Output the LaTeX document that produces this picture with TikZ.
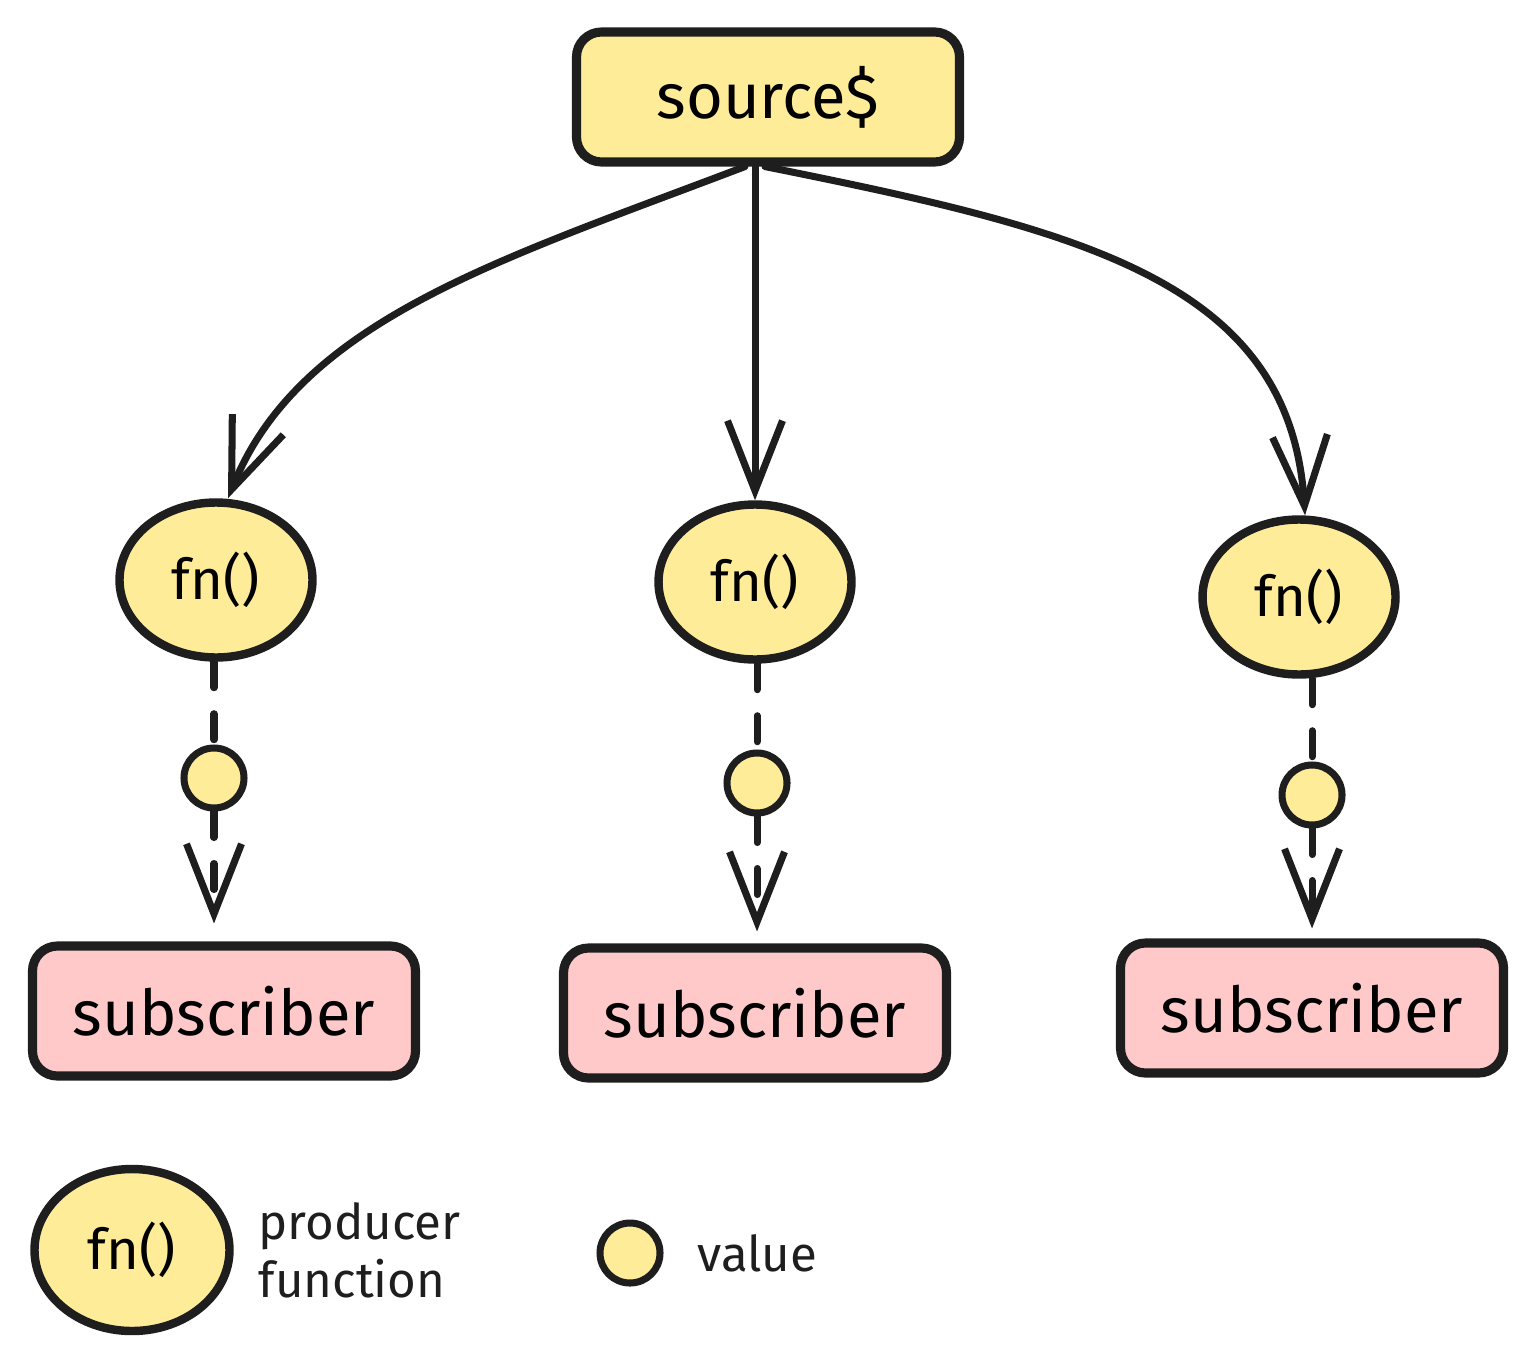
\documentclass[tikz,border=0pt]{standalone}
\usepackage{fontspec}
\setmainfont{Fira Sans}
\usetikzlibrary{arrows.meta, shapes.geometric}
\definecolor{ink}{HTML}{1E1E1E}
\definecolor{fnyellow}{HTML}{FFEC99}
\definecolor{subpink}{HTML}{FFC9C9}

\begin{document}
\begin{tikzpicture}[
  box/.style={draw=ink, line width=2.6pt, rounded corners=0.25cm, minimum width=3.83cm, minimum height=1.3cm, font=\fontsize{18}{22}\selectfont},
  prod/.style={ellipse, draw=ink, fill=fnyellow, line width=2.4pt, minimum width=1.93cm, minimum height=1.55cm, inner sep=0pt, font=\fontsize{16}{19}\selectfont},
  val/.style={circle, draw=ink, fill=fnyellow, line width=2pt, minimum size=0.6cm, inner sep=0pt},
  flow/.style={draw=ink, line width=2pt, line cap=round, -{Straight Barb[length=0.7cm,width=0.55cm]}},
  emit/.style={draw=ink, line width=2pt, line cap=round, dash pattern=on 0.26cm off 0.26cm},
  legend/.style={align=left, inner sep=0pt, text=ink, font=\fontsize{14}{16.5}\selectfont},
]
\useasboundingbox (0,0) rectangle (15.37,-13.60);

\node[box, fill=fnyellow] (src) at (7.68,-0.97) {source\$};

% producer functions
\node[prod] (fnL) at (2.16,-5.80) {fn()};
\node[prod] (fnM) at (7.55,-5.82) {fn()};
\node[prod] (fnR) at (12.99,-5.97) {fn()};

% emitted values
\node[val] (valL) at (2.14,-7.78) {};
\node[val] (valM) at (7.57,-7.83) {};
\node[val] (valR) at (13.12,-7.95) {};

\node[box, fill=subpink] (subL) at (2.24,-10.11) {subscriber};
\node[box, fill=subpink] (subM) at (7.55,-10.13) {subscriber};
\node[box, fill=subpink] (subR) at (13.12,-10.08) {subscriber};

\draw[flow] ([xshift=-0.23cm]src.south) .. controls (5.0,-2.6) and (3.0,-3.2) .. ([xshift=0.12cm]fnL.north);
\draw[flow] (fnM.north |- src.south) -- (fnM.north);
\draw[flow] ([xshift=-0.03cm]src.south) .. controls (10.8,-2.3) and (12.9,-2.8) .. ([xshift=0.06cm]fnR.north);

\draw[emit] (valL |- fnL.south) -- (valL);
\draw[emit] (valM |- fnM.south) -- (valM);
\draw[emit] (valR |- fnR.south) -- (valR);
\draw[emit, -{Straight Barb[length=0.7cm,width=0.55cm]}, shorten >=0.18cm] (valL) -- (valL |- subL.north);
\draw[emit, -{Straight Barb[length=0.7cm,width=0.55cm]}, shorten >=0.12cm] (valM) -- (valM |- subM.north);
\draw[emit, -{Straight Barb[length=0.7cm,width=0.55cm]}, shorten >=0.1cm] (valR) -- (valR |- subR.north);

% legend
\node[prod, minimum width=1.95cm, minimum height=1.62cm] (keyFn) at (1.32,-12.50) {fn()};
\node[legend, anchor=west] (keyFnText) at (2.58,-12.50) {producer\\function};
\node[val] (keyVal) at (6.30,-12.53) {};
\node[legend, anchor=west] (keyValText) at (6.97,-12.53) {value};
\end{tikzpicture}
\end{document}
